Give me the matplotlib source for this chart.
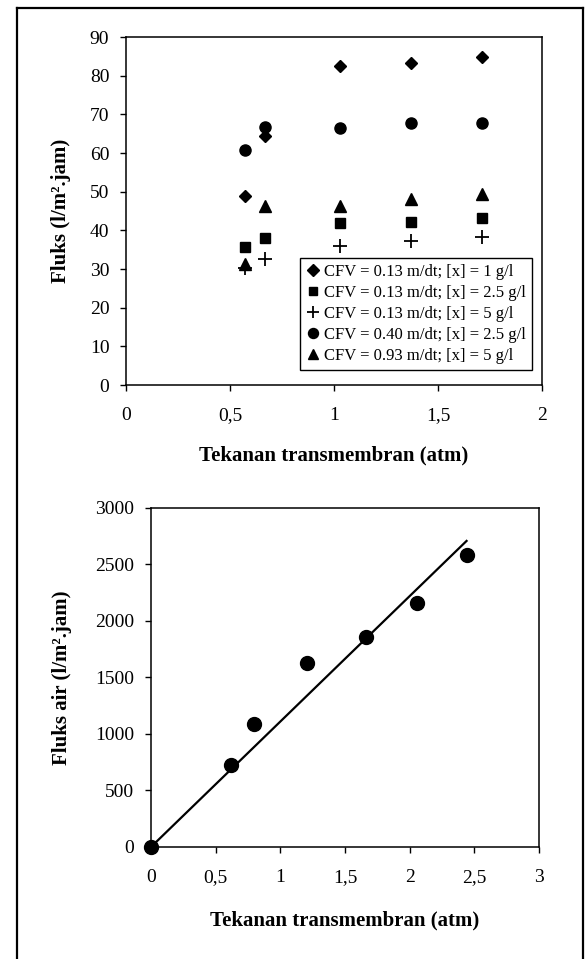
import matplotlib
matplotlib.use("Agg")
import matplotlib.pyplot as plt
from matplotlib.lines import Line2D
from matplotlib.ticker import FuncFormatter

plt.rcParams['font.family'] = ['Liberation Serif', 'DejaVu Serif']

# --- data: top chart (flux vs transmembrane pressure) ---
tmp = [0.57, 0.67, 1.03, 1.37, 1.71]
flux_013_1 = [48.9, 64.5, 82.4, 83.4, 84.8]
flux_013_25 = [35.6, 38.0, 42.0, 42.2, 43.3]
flux_013_5 = [30.2, 32.6, 36.0, 37.3, 38.3]
flux_040_25 = [60.7, 66.8, 66.6, 67.7, 67.8]
flux_093_5 = [31.3, 46.3, 46.3, 48.1, 49.3]

series_labels = ['CFV = 0.13 m/dt; [x] = 1 g/l',
                 'CFV = 0.13 m/dt; [x] = 2.5 g/l',
                 'CFV = 0.13 m/dt; [x] = 5 g/l',
                 'CFV = 0.40 m/dt; [x] = 2.5 g/l',
                 'CFV = 0.93 m/dt; [x] = 5 g/l']

# --- data: bottom chart (water flux) ---
tmp_air = [0.0, 0.62, 0.80, 1.21, 1.66, 2.06, 2.44]
flux_air = [0, 725, 1090, 1630, 1860, 2160, 2585]
fit_slope = 1110
fit_x = [0.0, 2.44]


def comma_fmt(v, pos):
    return ('%g' % v).replace('.', ',')


def style_axes(ax):
    for sp in ax.spines.values():
        sp.set_linewidth(1.1)
        sp.set_color('black')
    ax.tick_params(direction='out', length=4, width=1, labelsize=14, colors='black')
    ax.tick_params(axis='y', pad=8)
    ax.tick_params(axis='x', pad=12)
    ax.xaxis.set_major_formatter(FuncFormatter(comma_fmt))


fig = plt.figure(figsize=(5.87, 9.59), dpi=100)

# top chart
ax1 = fig.add_axes([0.2147, 0.5985, 0.7087, 0.3629])
ax1.plot(tmp, flux_013_1, 'D', color='black', markersize=6.5, label=series_labels[0])
ax1.plot(tmp, flux_013_25, 's', color='black', markersize=7, label=series_labels[1])
ax1.plot(tmp, flux_013_5, '+', color='black', markersize=10, markeredgewidth=1.3, label=series_labels[2])
ax1.plot(tmp, flux_040_25, 'o', color='black', markersize=8, label=series_labels[3])
ax1.plot(tmp, flux_093_5, '^', color='black', markersize=8, label=series_labels[4])
ax1.set_xlim(0, 2)
ax1.set_ylim(0, 90)
ax1.set_xticks([0, 0.5, 1, 1.5, 2])
ax1.set_yticks(range(0, 91, 10))
style_axes(ax1)
ax1.set_xlabel('Tekanan transmembran (atm)', fontsize=15, fontweight='bold')
ax1.set_ylabel('Fluks (l/m².jam)', fontsize=15, fontweight='bold')
ax1.xaxis.set_label_coords(0.5, -0.201)
ax1.xaxis.label.set_va('center')
ax1.yaxis.set_label_coords(-0.157, 0.5)
ax1.yaxis.label.set_va('center')
leg = ax1.legend(loc='lower right', bbox_to_anchor=(0.976, 0.043), fontsize=12,
                 frameon=True, fancybox=False, edgecolor='black', framealpha=1,
                 handlelength=0.8, handletextpad=0.3, labelspacing=0.3,
                 borderpad=0.35, borderaxespad=0, markerscale=0.9)
leg.get_frame().set_linewidth(1.0)

# bottom chart
ax2 = fig.add_axes([0.2572, 0.1168, 0.661, 0.3535])
ax2.plot(fit_x, [fit_slope * v for v in fit_x], '-', color='black', linewidth=1.6)
ax2.plot(tmp_air, flux_air, 'o', color='black', markersize=10, clip_on=False)
ax2.set_xlim(0, 3)
ax2.set_ylim(0, 3000)
ax2.set_xticks([0, 0.5, 1, 1.5, 2, 2.5, 3])
ax2.set_yticks(range(0, 3001, 500))
style_axes(ax2)
ax2.set_xlabel('Tekanan transmembran (atm)', fontsize=15, fontweight='bold')
ax2.set_ylabel('Fluks air (l/m².jam)', fontsize=15, fontweight='bold')
ax2.xaxis.set_label_coords(0.5, -0.218)
ax2.xaxis.label.set_va('center')
ax2.yaxis.set_label_coords(-0.229, 0.5)
ax2.yaxis.label.set_va('center')

# outer frame of the scanned figure
x_l, x_r, y_t = 17 / 587, 583 / 587, 1 - 8 / 959
fig.add_artist(Line2D([x_l, x_l], [0, y_t], transform=fig.transFigure, color='black', lw=1.6))
fig.add_artist(Line2D([x_l, x_r], [y_t, y_t], transform=fig.transFigure, color='black', lw=1.6))
fig.add_artist(Line2D([x_r, x_r], [y_t, 0], transform=fig.transFigure, color='black', lw=1.6))

fig.savefig('out.png', dpi=100, facecolor='white')
